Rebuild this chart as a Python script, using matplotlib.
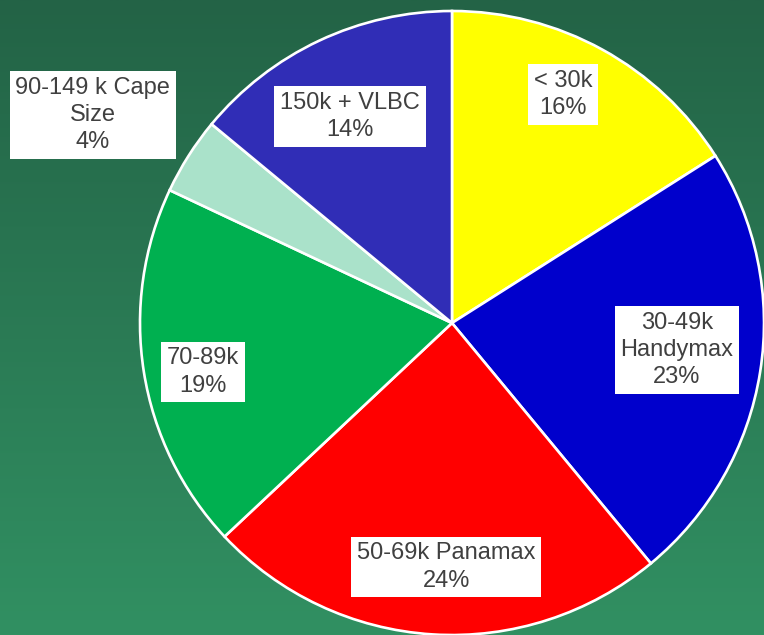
import numpy as np
import matplotlib
matplotlib.use("Agg")
from matplotlib import pyplot as plt

# fleet share by vessel size, clockwise from 12 o'clock
labels = ["< 30k", "30-49k\nHandymax", "50-69k Panamax", "70-89k",
          "90-149 k Cape\nSize", "150k + VLBC"]
shares = [16, 23, 24, 19, 4, 14]

colors = ["#ffff00", "#0000cc", "#ff0000", "#00b050", "#aae2ca", "#302db6"]

# label box centres, in pie-radius units
label_pos = [(0.356, 0.731), (0.721, -0.087), (-0.019, -0.782),
             (-0.798, -0.157), (-1.151, 0.667), (-0.327, 0.663)]

W, H = 764, 635
cx, cy, r = 452, 323, 312

fig = plt.figure(figsize=(W / 100, H / 100), dpi=100)
ax = fig.add_axes([0, 0, 1, 1])
x0, x1 = -cx / r, (W - cx) / r
y0, y1 = -(H - cy) / r, cy / r
ax.axis("off")

# vertical green gradient behind the pie
top = np.array([35, 99, 70]) / 255
bottom = np.array([49, 144, 98]) / 255
t = np.linspace(0, 1, 256)[:, None]
grad = (top * (1 - t) + bottom * t)[:, None, :]
ax.imshow(grad, extent=(x0, x1, y0, y1), aspect="auto", zorder=0)

wedges, _ = ax.pie(shares, colors=colors, startangle=90, counterclock=False,
                   radius=1.0, center=(0, 0),
                   wedgeprops=dict(edgecolor="white", linewidth=1.9))
for w in wedges:
    w.set_zorder(2)
ax.set_xlim(x0, x1)
ax.set_ylim(y0, y1)
ax.set_aspect("equal")

for lab, val, (lx, ly) in zip(labels, shares, label_pos):
    ax.text(lx, ly, f"{lab}\n{val}%", ha="center", va="center",
            fontsize=17, family=["Liberation Sans", "DejaVu Sans"],
            color="#404040", linespacing=1.3, zorder=3,
            bbox=dict(boxstyle="square,pad=0.25", facecolor="white",
                      edgecolor="none"))

fig.savefig("out.png", dpi=100)
